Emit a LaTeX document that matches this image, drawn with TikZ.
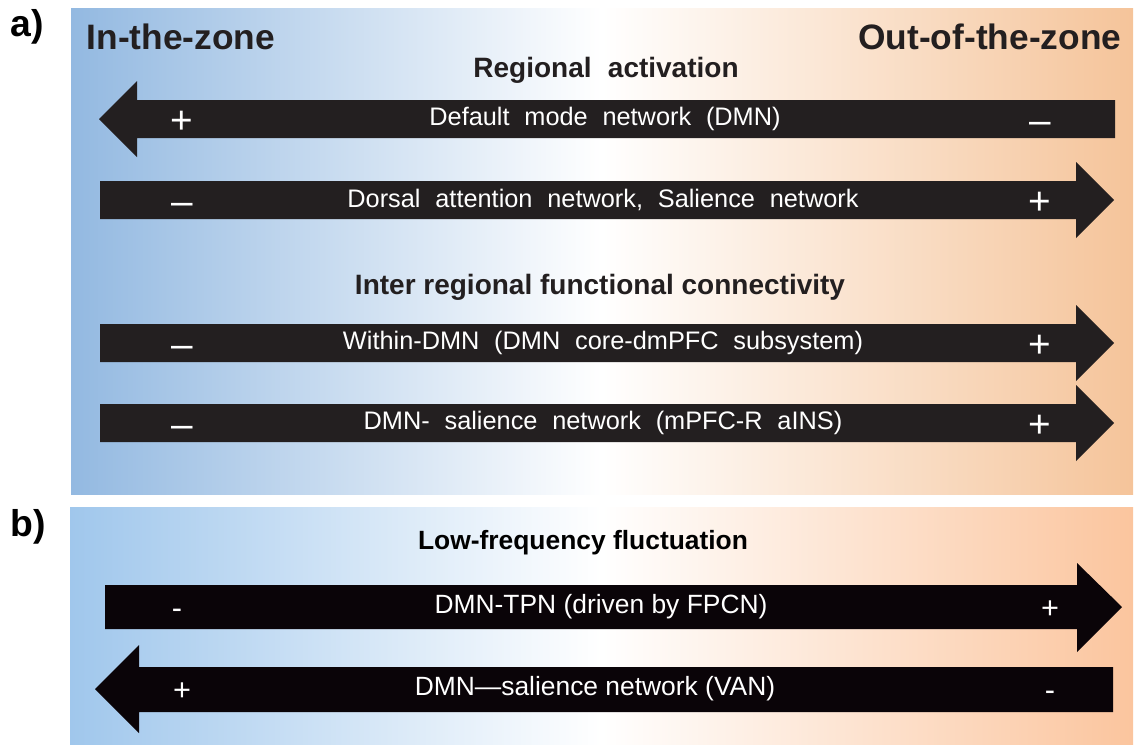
\documentclass[tikz,border=0pt]{standalone}
\usepackage{fontspec}
\setmainfont{Liberation Sans}
\newfontfamily\widesans{Liberation Sans}[WordSpace=2.1]
\definecolor{zoneblue}{RGB}{147,185,225}
\definecolor{zonepeach}{RGB}{245,196,154}
\definecolor{lowblue}{RGB}{160,199,236}
\definecolor{lowpeach}{RGB}{251,197,158}
\definecolor{arrowdark}{RGB}{35,31,32}
\definecolor{arrowblack}{RGB}{10,4,8}

\begin{document}
\begin{tikzpicture}[line cap=round,line join=miter,x=0.75pt,y=-0.75pt,
    panel/.style={font=\bfseries\fontsize{28}{30}\selectfont},
    zone/.style={font=\bfseries\fontsize{26.5}{28}\selectfont,text=arrowdark},
    heading/.style={font=\bfseries\fontsize{21}{24}\selectfont,text=arrowdark},
    lab/.style={font=\widesans\fontsize{19}{22}\selectfont,text=white},
    lowlab/.style={font=\fontsize{19.8}{22}\selectfont,text=white},
    sign/.style={font=\fontsize{29}{30}\selectfont,text=white,anchor=base},
    smallsign/.style={font=\fontsize{23}{24}\selectfont,text=white,anchor=base}]
    \useasboundingbox (0,0) rectangle (1135,744);
    % backgrounds
    \shade[left color=zoneblue,right color=zonepeach,middle color=white] (71,8) rectangle (1133,494);
    \shade[left color=lowblue,right color=lowpeach,middle color=white] (70,507) rectangle (1133,744);
    \node[panel] (pa) at (27,27) {a)};
    \node[panel] (pb) at (28,527) {b)};
    \node[zone,anchor=west] (inzone) at (82,37) {In-the-zone};
    \node[zone,anchor=east] (outzone) at (1126,37) {Out-of-the-zone};
    \node[heading,font=\widesans\bfseries\fontsize{21}{24}\selectfont] (regact) at (606,70) {Regional activation};
    \node[heading] (interfc) at (600,287) {Inter regional functional connectivity};
    \node[font=\bfseries\fontsize{19.8}{22}\selectfont] (lowfreq) at (583,543) {Low-frequency fluctuation};
    % panel a: DMN arrow to the left
    \fill[arrowdark] (1115,100) -- (137,100) -- (137,81) -- (99,119) -- (137,157) -- (137,138) -- (1115,138) -- cycle;
    \node[lab] (dmn) at (605,119) {Default mode network (DMN)};
    \node[sign] (dmnp) at (182,133) {+};
    \node[sign] (dmnm) at (1040,133) {–};
    % panel a: arrows to the right
    \foreach \s/\txt in {{181/Dorsal attention network, Salience network},{324/Within-DMN (DMN core-dmPFC subsystem)},{404/DMN- salience network (mPFC-R aINS)}}
    {
    \fill[arrowdark] (100,\s) -- (1076,\s) -- (1076,\s-19) -- (1114,\s+19) -- (1076,\s+57) -- (1076,\s+38) -- (100,\s+38) -- cycle;
    \node[lab] (lab\s) at (603,\s+19) {\txt};
    \node[sign] (m\s) at (182,\s+33) {–};
    \node[sign] (p\s) at (1040,\s+33) {+};
    }
    % panel b
    \fill[arrowblack] (105,585) -- (1077,585) -- (1077,563) -- (1122,607) -- (1077,652) -- (1077,629) -- (105,629) -- cycle;
    \node[lowlab] (tpn) at (601,607) {DMN-TPN (driven by FPCN)};
    \node[smallsign] (tpnm) at (177,618) {-};
    \node[smallsign] (tpnp) at (1050,618) {+};
    \fill[arrowblack] (1113,667) -- (139,667) -- (139,645) -- (95,689) -- (139,733) -- (139,712) -- (1113,712) -- cycle;
    \node[lowlab] (van) at (595,689) {DMN—salience network (VAN)};
    \node[smallsign] (vanp) at (182,700) {+};
    \node[smallsign] (vanm) at (1050,700) {-};
\end{tikzpicture}
\end{document}
